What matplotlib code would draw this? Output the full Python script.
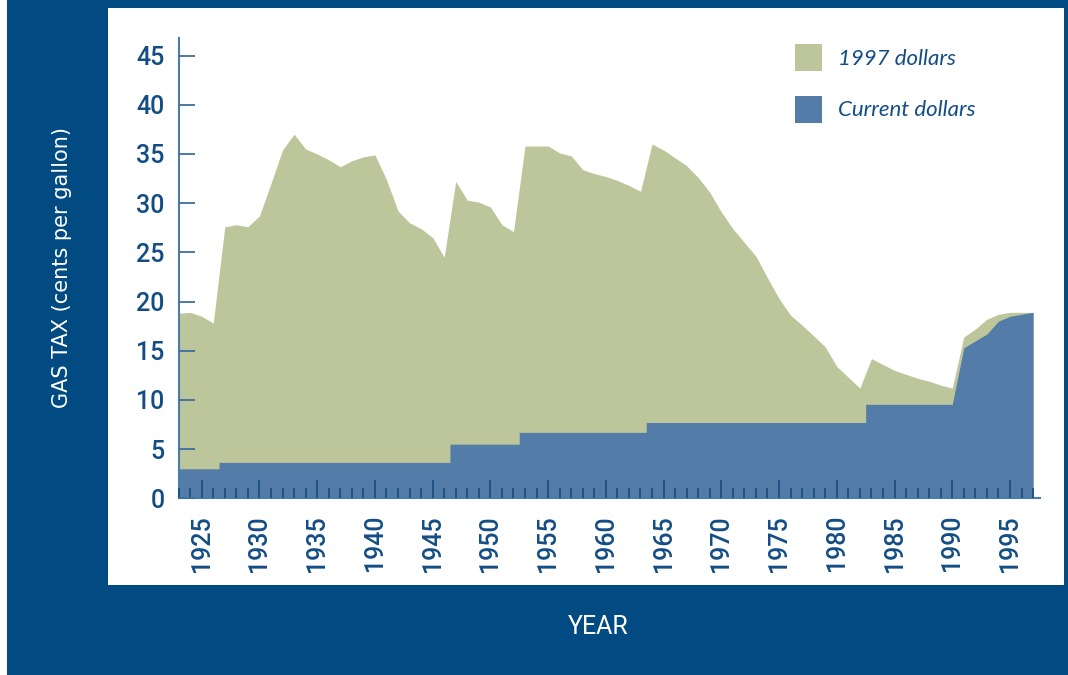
import numpy as np
import matplotlib
matplotlib.use("Agg")
import matplotlib.pyplot as plt
from matplotlib import cbook
from matplotlib.patches import Rectangle, Patch
from matplotlib.ticker import MultipleLocator

years = list(range(1923, 1998))

# gas tax in 1997 dollars (cents per gallon)
real_1997 = [
    18.8, 18.9, 18.5, 17.8, 27.6, 27.8, 27.6, 28.7, 32.0, 35.4,   # 1923-1932
    37.0, 35.5, 35.0, 34.4, 33.7, 34.3, 34.7, 34.9, 32.4, 29.2,   # 1933-1942
    28.0, 27.4, 26.5, 24.5, 32.2, 30.3, 30.1, 29.6, 27.8, 27.1,   # 1943-1952
    35.8, 35.8, 35.8, 35.1, 34.8, 33.4, 33.0, 32.7, 32.3, 31.8,   # 1953-1962
    31.2, 36.0, 35.4, 34.6, 33.8, 32.6, 31.1, 29.1, 27.4, 26.0,   # 1963-1972
    24.6, 22.4, 20.3, 18.6, 17.6, 16.5, 15.4, 13.4, 12.3, 11.2,   # 1973-1982
    14.2, 13.6, 13.0, 12.6, 12.2, 11.9, 11.5, 11.2, 16.4, 17.2,   # 1983-1992
    18.2, 18.7, 18.9, 18.9, 18.9,                                 # 1993-1997
]

# gas tax in current dollars (cents per gallon)
current = [
    3.0, 3.0, 3.0, 3.0, 3.65, 3.65, 3.65, 3.65, 3.65, 3.65,       # 1923-1932
    3.65, 3.65, 3.65, 3.65, 3.65, 3.65, 3.65, 3.65, 3.65, 3.65,   # 1933-1942
    3.65, 3.65, 3.65, 3.65, 5.5, 5.5, 5.5, 5.5, 5.5, 5.5,         # 1943-1952
    6.7, 6.7, 6.7, 6.7, 6.7, 6.7, 6.7, 6.7, 6.7, 6.7,             # 1953-1962
    6.7, 7.7, 7.7, 7.7, 7.7, 7.7, 7.7, 7.7, 7.7, 7.7,             # 1963-1972
    7.7, 7.7, 7.7, 7.7, 7.7, 7.7, 7.7, 7.7, 7.7, 7.7,             # 1973-1982
    9.55, 9.55, 9.55, 9.55, 9.55, 9.55, 9.55, 9.55, 15.3, 16.0,   # 1983-1992
    16.7, 18.0, 18.5, 18.7, 18.9,                                 # 1993-1997
]

series_labels = ["1997 dollars", "Current dollars"]
xlabels = list(range(1925, 2000, 5))

FRAME = "#014a82"
TXT = "#134d85"
GREEN = "#bdc69b"
BLUE = "#537ca9"

W, H = 1068, 675
fig = plt.figure(figsize=(W / 100, H / 100), dpi=100, facecolor="white")

# dark frame and white panel
fig.patches.append(Rectangle((7 / W, 0), 1 - 7 / W, 1, transform=fig.transFigure,
                             facecolor=FRAME, edgecolor="none", zorder=-2))
fig.patches.append(Rectangle((108 / W, 1 - 585 / H), (1064 - 108) / W, (585 - 8) / H,
                             transform=fig.transFigure, facecolor="white",
                             edgecolor="none", zorder=-1))

ax = fig.add_axes([178.6 / W, 1 - 498.3 / H, (1040 - 178.6) / W, (498.3 - 38.3) / H])
ax.set_facecolor("none")
ax.set_axisbelow(False)

yr = np.array(years, dtype=float)
real = np.array(real_1997)
cur = np.array(current)
i90 = years.index(1990)

# stepped until 1990, then year-to-year line
sx, sy = cbook.pts_to_midstep(yr[:i90 + 1], cur[:i90 + 1])
bx = np.concatenate([sx, yr[i90 + 1:]])
by = np.concatenate([sy, cur[i90 + 1:]])

ax.fill_between(yr, 0, real, color=GREEN, lw=0, zorder=1)
ax.fill_between(bx, 0, by, color=BLUE, lw=0, zorder=2)

ax.set_xlim(1923, 1997.6)
ax.set_ylim(0, 46.75)

for s in ["top", "right"]:
    ax.spines[s].set_visible(False)
for s in ["left", "bottom"]:
    ax.spines[s].set_color("#4a7cab")
    ax.spines[s].set_linewidth(1.5)

ax.yaxis.set_major_locator(MultipleLocator(5))
ax.set_xticks(xlabels)
ax.set_xticklabels([str(v) for v in xlabels], rotation=90)
ax.xaxis.set_minor_locator(MultipleLocator(1))

ax.tick_params(axis="y", which="major", direction="in", length=11.5, width=1.3,
               color="#3d6f9f", pad=10, labelcolor=TXT)
ax.tick_params(axis="x", which="major", direction="in", length=13, width=1.3,
               color="#1a4f85", pad=12, labelcolor=TXT)
ax.tick_params(axis="x", which="minor", direction="in", length=7, width=1.3,
               color="#1a4f85")

for lbl in ax.get_yticklabels() + ax.get_xticklabels():
    lbl.set_family("Roboto")
    lbl.set_weight("medium")
    lbl.set_size(18)

fig.text(62 / W, 1 - 267 / H, "GAS TAX (cents per gallon)", rotation=90,
         ha="center", va="center", color="white", family="DejaVu Sans", size=15)
fig.text(598 / W, 1 - 627 / H, "YEAR", ha="center", va="center", color="white",
         family="Roboto", size=18)

handles = [Patch(facecolor=GREEN, edgecolor="none"), Patch(facecolor=BLUE, edgecolor="none")]
leg = fig.legend(handles, series_labels, loc="upper left",
                 bbox_to_anchor=(795 / W, 1 - 44 / H), frameon=False,
                 prop={"family": "Lato", "style": "italic", "size": 16},
                 handlelength=1.22, handleheight=1.5, labelspacing=1.1,
                 handletextpad=0.7, borderpad=0, borderaxespad=0)
for t in leg.get_texts():
    t.set_color(TXT)

fig.savefig("out.png", dpi=100, facecolor=fig.get_facecolor())
